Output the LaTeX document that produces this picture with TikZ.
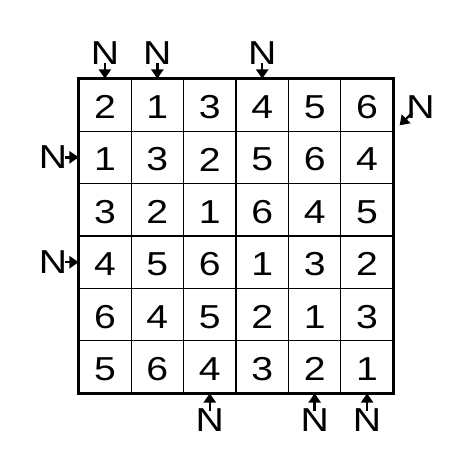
\documentclass[tikz,border=0pt]{standalone}
\usepackage{fontspec}
\setmainfont[FakeStretch=1.18]{Liberation Sans}
\usetikzlibrary{arrows.meta}
\begin{document}
\begin{tikzpicture}[
  digit/.style={font=\fontsize{18}{20}\selectfont, inner sep=0pt, anchor=center},
  clue/.style={font=\fontsize{18}{20}\selectfont, inner sep=0pt, anchor=center},
  cluearrow/.style={line width=1.3pt, -{Triangle[width=6.5pt,length=5pt]}},
  thin/.style={line width=0.6pt},
  thick/.style={line width=1.7pt}
]
\useasboundingbox (0,0) rectangle (9,9);
% grid
\foreach \i in {1,...,5} {
  \draw[thin] (1.5+\i,1.5) -- (1.5+\i,7.5);
  \draw[thin] (1.5,1.5+\i) -- (7.5,1.5+\i);
}
\draw[thick] (1.5,1.5) rectangle (7.5,7.5);
% digits
\foreach \row [count=\r] in {{2,1,3,4,5,6},{1,3,2,5,6,4},{3,2,1,6,4,5},{4,5,6,1,3,2},{6,4,5,2,1,3},{5,6,4,3,2,1}} {
  \foreach \d [count=\c] in \row {
    \node[digit] (c\r\c) at (1.5+\c-0.5, 7.5-\r+0.5-0.04) {\d};
  }
}
% top clues
\foreach \c in {1,2,4} {
  \node[clue] (t\c) at (1.5+\c-0.5, 7.98) {N};
  \coordinate (te\c) at (1.5+\c-0.5, 7.5);
  \draw[cluearrow] ([yshift=1.5pt]t\c.south) -- (te\c);
}
% left clues
\foreach \r in {2,4} {
  \node[clue] (l\r) at (1.01, 7.5-\r+0.5) {N};
  \coordinate (le\r) at (1.5, 7.5-\r+0.5);
  \draw[cluearrow] ([xshift=-1.5pt]l\r.east) -- (le\r);
}
% bottom clues
\foreach \c in {3,5,6} {
  \node[clue] (b\c) at (1.5+\c-0.5, 0.99) {N};
  \coordinate (be\c) at (1.5+\c-0.5, 1.5);
  \draw[cluearrow] ([yshift=-1.5pt]b\c.north) -- (be\c);
}
% right diagonal clue
\node[clue] (r1) at (8.02, 6.95) {N};
\coordinate (re1) at (7.62, 6.61);
\draw[cluearrow] (7.86, 6.85) -- (re1);
\end{tikzpicture}
\end{document}
